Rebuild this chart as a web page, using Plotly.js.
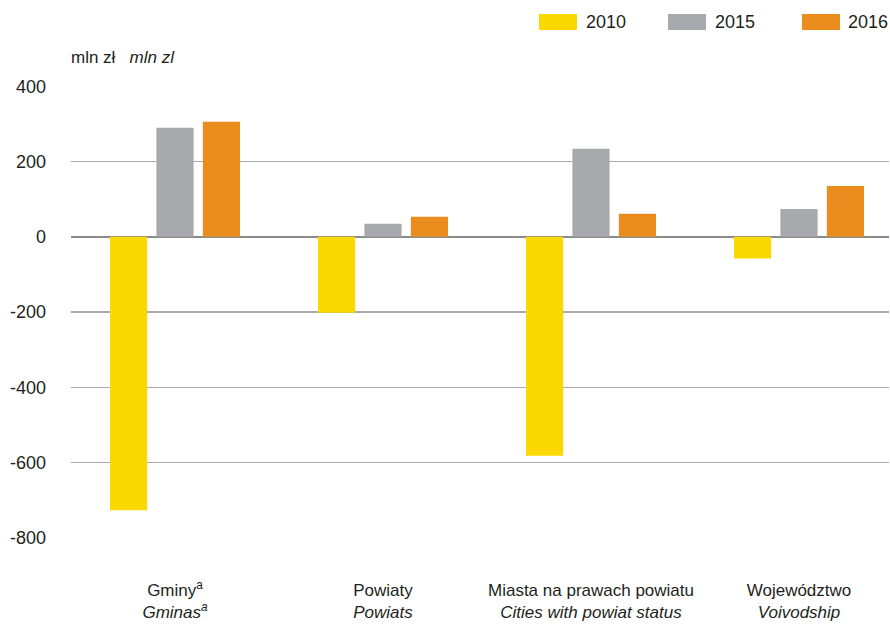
<!DOCTYPE html>
<html><head><meta charset="utf-8">
<script src="https://cdn.plot.ly/plotly-3.0.1.min.js"></script>
<style>html,body{margin:0;padding:0;background:#fff}#c{width:890px;height:626px}</style>
</head><body><div id="c"></div>
<script>
const categories = ["Gminy<sup>a</sup><br><i>Gminas<sup>a</sup></i>", "Powiaty<br><i>Powiats</i>", "Miasta na prawach powiatu<br><i>Cities with powiat status</i>", "Województwo<br><i>Voivodship</i>"];
const seriesNames = ["2010", "2015", "2016"];
const v2010 = [-727, -202, -582, -58];
const v2015 = [290, 35, 234, 74];
const v2016 = [306, 53, 61, 135];
const colors = ["#FAD902", "#A8A9AC", "#EA8C1E"];
const yTicks = [400, 200, 0, -200, -400, -600, -800];

const FONT = "'Liberation Sans', Arial, sans-serif";
const vals = [v2010, v2015, v2016];
const data = vals.map((v, i) => ({
  type: "bar", x: categories, y: v, name: seriesNames[i],
  marker: {color: colors[i]}, showlegend: false, hoverinfo: "none"
}));

const PW = 818, PH = 452, BOT = 538;
const legX = [539, 668, 802];
const legTextRight = [628, 757, 890];
const shapes = [], annotations = [];
legX.forEach((x0, i) => {
  shapes.push({type: "rect", xref: "paper", yref: "paper",
    x0: (x0 - 71) / PW, x1: (x0 + 38 - 71) / PW,
    y0: (BOT - 30) / PH, y1: (BOT - 14) / PH,
    fillcolor: colors[i], line: {width: 0}});
  annotations.push({xref: "paper", yref: "paper", x: (legTextRight[i] - 71) / PW, y: (BOT - 22) / PH,
    xanchor: "right", yanchor: "middle", showarrow: false, text: seriesNames[i],
    font: {family: FONT, size: 18, color: "#231f20"}});
});
annotations.push({xref: "paper", yref: "paper", x: -0.002, y: (BOT - 57) / PH,
  xanchor: "left", yanchor: "middle", showarrow: false,
  text: "mln zł   <i>mln zl</i>", font: {family: FONT, size: 17, color: "#231f20"}});

const layout = {
  width: 890, height: 626,
  margin: {l: 71, r: 1, t: 86, b: 88},
  paper_bgcolor: "#fff", plot_bgcolor: "#fff",
  barmode: "group", bargap: 0.33, bargroupgap: 0.2,
  font: {family: FONT, size: 17, color: "#231f20"},
  xaxis: {range: [-0.5, -0.5 + 818 / 208], showgrid: false, showline: false, ticks: "",
    tickfont: {size: 17}, ticklabelstandoff: 40, fixedrange: true},
  yaxis: {range: [-801, 401], tickvals: yTicks, ticktext: yTicks.map(String),
    showgrid: true, gridcolor: "#ababab", gridwidth: 1.3,
    zeroline: true, zerolinecolor: "#8a8a8a", zerolinewidth: 1.8,
    showline: false, ticks: "", ticklabelstandoff: 24, tickfont: {size: 18}, fixedrange: true},
  shapes: shapes, annotations: annotations
};
Plotly.newPlot("c", data, layout, {displayModeBar: false, staticPlot: true});
</script></body></html>
